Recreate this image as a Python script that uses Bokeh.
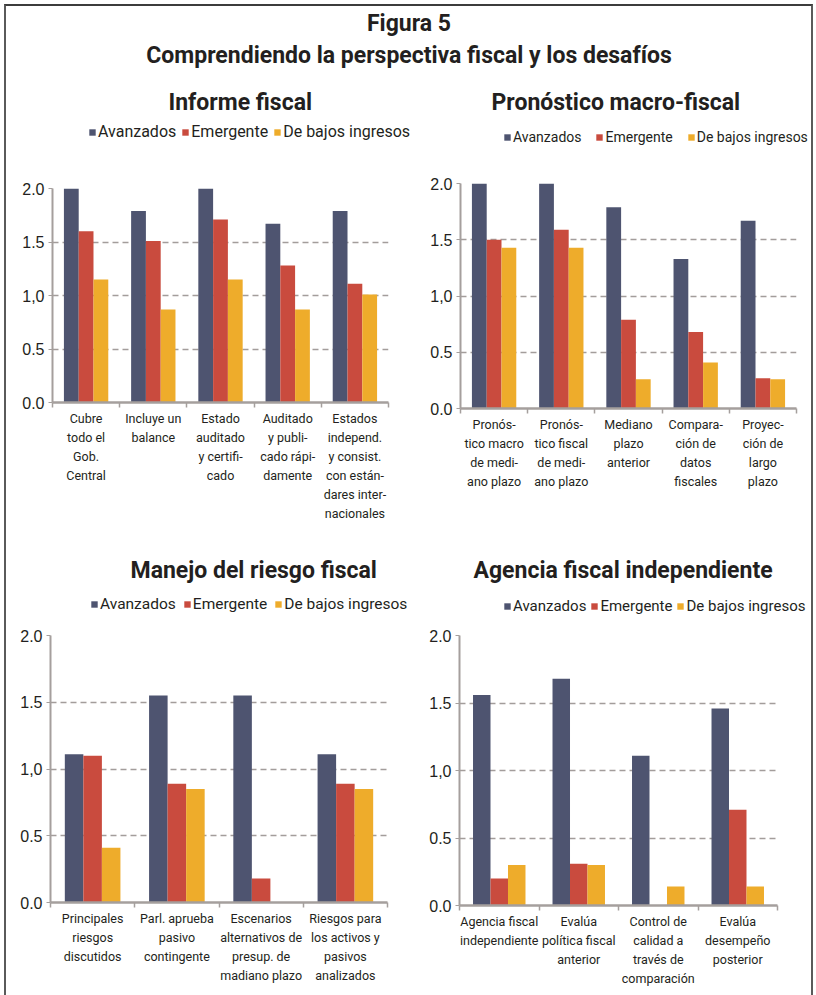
from bokeh.plotting import figure
from bokeh.models import ColumnDataSource, FixedTicker, Range1d, Legend, LegendItem, Title
from bokeh.transform import dodge
from bokeh.layouts import column, row
from bokeh.embed import file_html
from bokeh.resources import INLINE

# ---- data -------------------------------------------------------------
SERIES = ["Avanzados", "Emergente", "De bajos ingresos"]
COLORS = ["#4e5470", "#c94b3e", "#eeac2b"]

YTICKS = [0, 0.5, 1, 1.5, 2]
YLABELS = ["0.0", "0.5", "1,0", "1.5", "2.0"]

informe_cats = ["Cubre\ntodo el\nGob.\nCentral", "Incluye un\nbalance",
                "Estado\nauditado\ny certifi-\ncado",
                "Auditado\ny publi-\ncado rápi-\ndamente",
                "Estados\nindepend.\ny consist.\ncon están-\ndares inter-\nnacionales"]
informe_avz = [2.0, 1.79, 2.0, 1.67, 1.79]
informe_emg = [1.60, 1.51, 1.71, 1.28, 1.11]
informe_baj = [1.15, 0.87, 1.15, 0.87, 1.01]

pronos_cats = ["Pronós-\ntico macro\nde medi-\nano plazo",
               "Pronós-\ntico fiscal\nde medi-\nano plazo",
               "Mediano\nplazo\nanterior", "Compara-\nción de\ndatos\nfiscales",
               "Proyec-\nción de\nlargo\nplazo"]
pronos_avz = [2.0, 2.0, 1.79, 1.33, 1.67]
pronos_emg = [1.50, 1.59, 0.79, 0.68, 0.27]
pronos_baj = [1.43, 1.43, 0.26, 0.41, 0.26]

riesgo_cats = ["Principales\nriesgos\ndiscutidos", "Parl. aprueba\npasivo\ncontingente",
               "Escenarios\nalternativos de\npresup. de\nmadiano plazo",
               "Riesgos para\nlos activos y\npasivos\nanalizados"]
riesgo_avz = [1.11, 1.55, 1.55, 1.11]
riesgo_emg = [1.10, 0.89, 0.18, 0.89]
riesgo_baj = [0.41, 0.85, 0.0, 0.85]

agencia_cats = ["Agencia fiscal\nindependiente", "Evalúa\npolítica fiscal\nanterior",
                "Control de\ncalidad a\ntravés de\ncomparación",
                "Evalúa\ndesempeño\nposterior"]
agencia_avz = [1.56, 1.68, 1.11, 1.46]
agencia_emg = [0.20, 0.31, 0.0, 0.71]
agencia_baj = [0.30, 0.30, 0.14, 0.14]

# ---- styling ----------------------------------------------------------
NARROW = "Roboto"
REGULAR = "Liberation Sans"
AXIS_GREY = "#a59f9d"
GRID_GREY = "#a39d9b"
TEXT = "#231f20"
KEYS = ["avz", "emg", "baj"]
OFFSETS = [-0.22, 0.0, 0.22]
BAR_W = 0.22


def bars(fig, src, visible=True):
    out = []
    for key, off, color in zip(KEYS, OFFSETS, COLORS):
        out.append(fig.vbar(x=dodge("x", off), top=key, width=BAR_W, source=src,
                            fill_color=color, line_color=None, visible=visible))
    return out


def head(title, src, width, height, top, title_offset, legend_loc, legend_size,
         legend_spacing):
    """Panel heading: bold title with the series legend underneath."""
    h = figure(width=width, height=height, x_range=(0, 1), y_range=(0, 1),
               output_backend="svg", toolbar_location=None,
               x_axis_location=None, y_axis_location=None,
               min_border_left=0, min_border_right=0, min_border_top=top,
               min_border_bottom=0)
    h.frame_align = False
    h.outline_line_color = None
    h.grid.visible = False
    h.title.text = title
    h.title.align = "left"
    h.title.offset = title_offset
    h.title.standoff = 0
    h.title.text_font = NARROW
    h.title.text_font_size = "23px"
    h.title.text_font_style = "bold"
    h.title.text_color = TEXT

    swatches = bars(h, src, visible=False)
    legend = Legend(items=[LegendItem(label=s, renderers=[r])
                           for s, r in zip(SERIES, swatches)],
                    orientation="horizontal", location=legend_loc,
                    spacing=legend_spacing, glyph_width=8, glyph_height=8,
                    label_standoff=2, padding=0, margin=0,
                    border_line_color=None, background_fill_alpha=0,
                    label_text_font=NARROW, label_text_font_size=legend_size,
                    label_text_color=TEXT)
    h.add_layout(legend)
    return h


def chart(src, cats, width, height, borders):
    n = len(cats)
    centers = [i + 0.5 for i in range(n)]
    bounds = list(range(n + 1))
    left, right, top, bottom = borders
    p = figure(width=width, height=height, x_range=Range1d(0, n),
               y_range=Range1d(0, 2.0), output_backend="svg",
               toolbar_location=None, min_border_left=left,
               min_border_right=right, min_border_top=top,
               min_border_bottom=bottom)
    p.frame_align = False
    p.outline_line_color = None
    bars(p, src)

    # y axis
    p.yaxis.ticker = FixedTicker(ticks=YTICKS)
    p.yaxis.major_label_overrides = dict(zip(YTICKS, YLABELS))
    p.yaxis.major_label_text_font = REGULAR
    p.yaxis.major_label_text_font_size = "16px"
    p.yaxis.major_label_text_color = TEXT
    p.yaxis.axis_line_color = AXIS_GREY
    p.yaxis.axis_line_width = 2
    p.yaxis.major_tick_line_color = AXIS_GREY
    p.yaxis.major_tick_out = 4
    p.yaxis.major_tick_in = 0
    p.yaxis.minor_tick_line_color = None
    p.yaxis.major_label_standoff = 4

    # x axis: labels at group centres, short ticks between groups
    p.xaxis.ticker = FixedTicker(ticks=centers, minor_ticks=bounds)
    p.xaxis.major_label_overrides = dict(zip(centers, cats))
    p.xaxis.major_label_text_font = NARROW
    p.xaxis.major_label_text_font_size = "12.5px"
    p.xaxis.major_label_text_line_height = 1.27
    p.xaxis.major_label_text_color = TEXT
    p.xaxis.major_label_standoff = 2
    p.xaxis.axis_line_color = AXIS_GREY
    p.xaxis.axis_line_width = 2.5
    p.xaxis.major_tick_line_color = None
    p.xaxis.minor_tick_line_color = AXIS_GREY
    p.xaxis.minor_tick_line_width = 1.5
    p.xaxis.minor_tick_out = 5
    p.xaxis.minor_tick_in = 0

    p.xgrid.visible = False
    p.ygrid.ticker = FixedTicker(ticks=YTICKS[1:])
    p.ygrid.grid_line_color = GRID_GREY
    p.ygrid.grid_line_dash = "6 4"
    p.ygrid.grid_line_width = 1.5
    return p


def block(title, cats, avz, emg, baj, width, head_h, head_top, title_offset,
          legend_loc, legend_size, legend_spacing, chart_h, borders):
    src = ColumnDataSource(dict(x=[i + 0.5 for i in range(len(cats))],
                                avz=avz, emg=emg, baj=baj))
    h = head(title, src, width, head_h, head_top, title_offset, legend_loc,
             legend_size, legend_spacing)
    p = chart(src, cats, width, chart_h, borders)
    return column(h, p, spacing=0)


header = figure(width=805, height=69, x_range=(0, 1), y_range=(0, 1),
                output_backend="svg", toolbar_location=None,
                x_axis_location=None, y_axis_location=None,
                min_border_left=0, min_border_right=0, min_border_top=0,
                min_border_bottom=0)
header.frame_align = False
header.outline_line_color = None
header.grid.visible = False
header.title.text = "Figura 5"
header.title.align = "center"
header.title.text_font = NARROW
header.title.text_font_size = "23px"
header.title.text_font_style = "bold"
header.title.text_color = TEXT
header.title.standoff = 3
header.add_layout(Title(text="Comprendiendo la perspectiva fiscal y los desafíos",
                        align="center", text_font=NARROW, text_font_size="23px",
                        text_font_style="bold", text_color=TEXT, standoff=2),
                  "above")

b1 = block("Informe fiscal", informe_cats, informe_avz, informe_emg, informe_baj,
           404, 75, 40, 162, (82, 9), "16px", 5, 395, (46, 22, 38, 143))
b2 = block("Pronóstico macro-fiscal", pronos_cats, pronos_avz, pronos_emg, pronos_baj,
           401, 75, 40, 81, (93, 5), "14px", 14, 395, (50, 15, 33, 137))
b3 = block("Manejo del riesgo fiscal", riesgo_cats, riesgo_avz, riesgo_emg, riesgo_baj,
           404, 75, 38, 124, (84, 7), "15.5px", 7, 375, (44, 23, 15, 93))
b4 = block("Agencia fiscal independiente", agencia_cats, agencia_avz, agencia_emg,
           agencia_baj, 401, 75, 38, 63, (93, 5), "15px", 4, 375, (49, 34, 15, 90))

root = column(header, row(b1, b2, spacing=0), row(b3, b4, spacing=0), spacing=0,
              styles={"margin-left": "4px", "margin-top": "4px",
                      "border-top": "2px solid #3c3c3c",
                      "border-left": "2px solid #5a5a5a",
                      "border-right": "2px solid #5a5a5a"})

open("out.html", "w").write(file_html(root, INLINE))
